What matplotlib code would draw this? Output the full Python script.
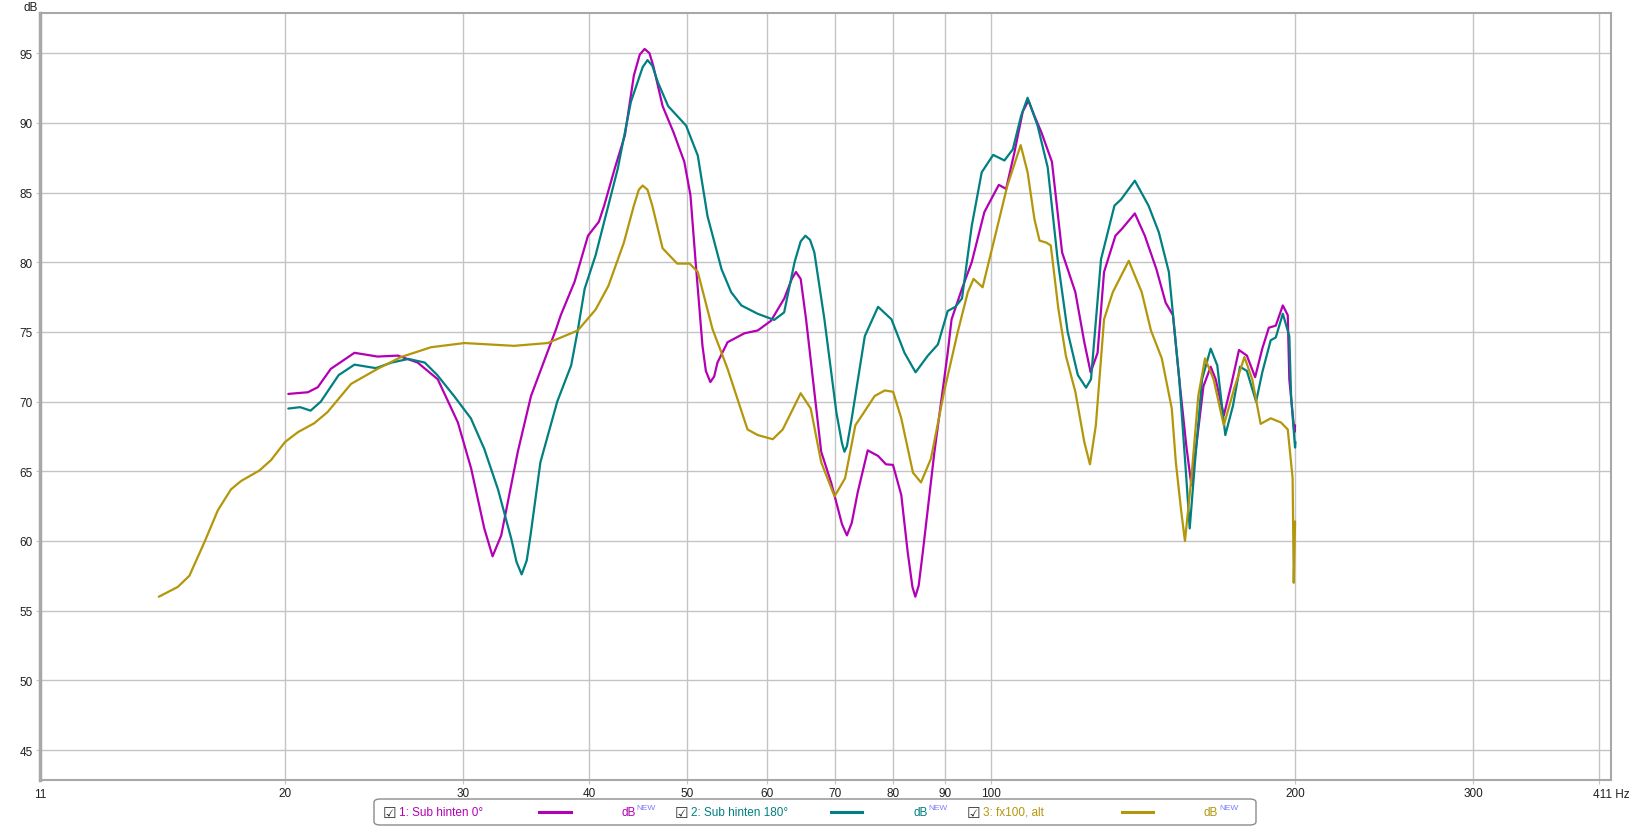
import matplotlib
matplotlib.use("Agg")
import matplotlib.pyplot as plt
from matplotlib.patches import FancyBboxPatch
from matplotlib.lines import Line2D

plt.rcParams['font.family'] = ['Liberation Sans', 'DejaVu Sans']

# Daten (Frequenz in Hz, Pegel in dB)
freq_0 = [20.15, 21.07, 21.55, 22.2, 23.43, 24.7, 25.86, 27.06, 28.33, 29.66,
          30.57, 31.5, 32.1, 32.74, 34.0, 35.04, 37.1, 37.5, 38.7, 39.9,
          40.9, 41.4, 42.4, 43.4, 44.3, 44.9, 45.4, 45.9, 46.3, 47.3, 48.5, 49.7,
          50.4, 51.0, 51.8, 52.2, 52.74, 53.2, 53.6, 54.85, 57.0, 58.75, 60.56, 62.42,
          63.5, 64.1, 64.8, 65.6, 66.85, 67.9, 69.45, 71.2, 72.0, 72.8, 73.8, 75.5, 77.3,
          78.7, 79.97, 81.5, 82.7, 83.6, 84.15, 84.8, 85.6, 87.9, 90.6, 91.4, 93.6,
          95.7, 98.5, 101.8, 103.5, 105.5, 107.5, 108.9, 110.4, 112.2, 114.9,
          117.6, 121.2, 123.7, 125.5, 127.5, 129.4, 132.8, 134.8, 138.8, 142.0,
          145.8, 148.9, 151.4, 153.6, 156.1, 157.9, 160.4, 162.3, 165.0, 166.9,
          170.0, 172.8, 176.0, 179.2, 182.6, 185.6, 188.4, 191.4, 194.5, 196.7,
          197.4, 199.7, 200.0]
db_0 = [70.55, 70.67, 71.03, 72.35, 73.5, 73.23, 73.3, 72.8, 71.6, 68.5,
        65.2, 60.9, 58.9, 60.4, 66.4, 70.4, 75.2, 76.2, 78.6, 81.9,
        82.9, 84.06, 86.7, 89.1, 93.4, 94.9, 95.3, 95.0, 94.1, 91.2, 89.3, 87.2,
        84.8, 80.0, 74.0, 72.2, 71.4, 71.8, 72.8, 74.26, 74.9, 75.1, 75.8, 77.4,
        78.8, 79.3, 78.8, 75.9, 70.7, 66.4, 64.2, 61.2, 60.4, 61.3, 63.5, 66.5, 66.1,
        65.5, 65.46, 63.3, 59.2, 56.7, 56.0, 56.8, 59.2, 66.4, 73.5, 75.9, 78.1,
        80.0, 83.6, 85.55, 85.26, 87.9, 90.8, 91.6, 90.5, 89.3, 87.2,
        80.7, 77.85, 74.26, 72.1, 73.5, 79.3, 81.9, 82.4, 83.5, 81.9,
        79.5, 77.1, 76.2, 71.6, 66.8, 64.0, 68.0, 71.1, 72.5, 71.6,
        69.0, 71.1, 73.7, 73.3, 71.75, 73.8, 75.3, 75.45, 76.9, 76.2,
        71.6, 67.8, 68.3]

freq_180 = [20.15, 20.7, 21.2, 21.7, 22.6, 23.43, 24.6, 25.5, 26.5, 27.5,
            28.3, 29.4, 30.55, 31.5, 32.5, 33.5, 33.9, 34.3, 34.7, 35.0, 35.8, 37.2,
            38.4, 39.0, 39.6, 40.6, 41.4, 42.7, 44.0, 45.2, 45.7, 46.2, 46.8, 47.9,
            49.9, 51.25, 52.4, 54.1, 55.3, 56.6, 58.75, 61.0, 62.4, 63.9,
            64.8, 65.5, 66.2, 66.85, 68.4, 70.3, 71.2, 71.6, 72.0, 72.8, 75.0, 77.3, 79.7, 82.1,
            84.2, 86.6, 88.6, 90.6, 92.2, 93.6, 95.7, 97.9, 100.5, 103.1,
            105.1, 107.1, 108.7, 111.2, 113.8, 116.4, 119.1, 121.9, 124.2, 125.6,
            128.5, 132.5, 134.5, 138.8, 143.2, 146.6, 150.0, 153.6, 156.1, 157.3,
            159.2, 161.8, 165.0, 167.5, 170.6, 173.6, 176.4, 179.2, 183.0, 185.6,
            189.2, 191.4, 194.5, 197.4, 198.2, 200.0, 200.2]
db_180 = [69.5, 69.6, 69.35, 70.0, 71.9, 72.65, 72.4, 72.8, 73.06, 72.8,
          71.9, 70.4, 68.8, 66.6, 63.7, 60.15, 58.5, 57.6, 58.6, 60.4, 65.65, 70.0,
          72.6, 75.2, 78.1, 80.5, 82.9, 86.7, 91.5, 94.0, 94.5, 94.1, 92.9, 91.2,
          89.8, 87.65, 83.3, 79.5, 77.85, 76.9, 76.3, 75.86, 76.4, 80.0,
          81.5, 81.9, 81.6, 80.7, 75.9, 69.2, 67.0, 66.4, 66.8, 68.8, 74.7, 76.8, 75.9, 73.5,
          72.1, 73.3, 74.1, 76.5, 76.8, 77.4, 82.6, 86.45, 87.7, 87.3,
          88.1, 90.5, 91.8, 89.8, 86.8, 80.2, 75.0, 71.9, 71.0, 71.6,
          80.2, 84.06, 84.5, 85.85, 84.06, 82.15, 79.3, 71.6, 64.5, 60.9,
          65.65, 71.6, 73.8, 72.6, 67.6, 69.7, 72.5, 72.2, 70.0, 72.1,
          74.4, 74.6, 76.3, 74.7, 70.4, 66.7, 67.1]

freq_alt = [15.0, 15.66, 16.08, 16.64, 17.16, 17.68, 18.09, 18.86, 19.37, 20.0,
            20.59, 21.38, 22.03, 23.25, 24.7, 26.06, 27.9, 30.1, 33.7, 36.4,
            38.98, 40.6, 41.8, 43.3, 44.3, 44.8, 45.2, 45.7, 46.2, 47.3, 48.9, 50.3,
            51.25, 53.0, 54.85, 57.4, 58.75, 60.8, 62.2, 64.8, 66.3, 67.9,
            70.0, 71.7, 73.4, 74.5, 76.7, 78.5, 80.0, 81.5, 83.7, 85.25,
            87.2, 89.85, 92.7, 94.85, 96.1, 98.1, 100.8, 103.8, 107.0, 108.7,
            110.4, 111.7, 113.5, 114.6, 116.6, 118.6, 121.2, 123.7, 125.3, 127.0,
            129.4, 132.0, 136.9, 141.0, 144.0, 147.6, 151.0, 152.4, 154.3, 155.6,
            157.9, 160.4, 162.9, 166.1, 170.0, 174.2, 178.2, 181.4, 184.9, 189.2,
            193.7, 196.7, 198.9, 199.4, 200.0]
db_alt = [56.0, 56.7, 57.5, 59.9, 62.2, 63.7, 64.3, 65.05, 65.8, 67.1,
          67.8, 68.45, 69.24, 71.27, 72.35, 73.2, 73.9, 74.2, 74.0, 74.2,
          75.1, 76.6, 78.3, 81.4, 84.06, 85.2, 85.5, 85.2, 84.06, 81.0, 79.9, 79.9,
          79.3, 75.2, 72.35, 68.0, 67.6, 67.3, 68.0, 70.6, 69.5, 65.65,
          63.2, 64.5, 68.3, 69.0, 70.4, 70.8, 70.7, 68.8, 64.9, 64.2,
          65.9, 70.7, 75.0, 77.85, 78.8, 78.2, 81.7, 85.5, 88.4, 86.45,
          83.1, 81.55, 81.4, 81.2, 76.65, 73.3, 70.7, 67.1, 65.5, 68.3,
          75.9, 77.85, 80.1, 77.85, 75.1, 73.1, 69.5, 65.65, 62.1, 60.0,
          64.5, 70.4, 73.1, 71.6, 68.3, 71.0, 73.2, 71.6, 68.4, 68.8,
          68.5, 68.0, 64.5, 57.0, 61.4]

x_ticks = [20, 30, 40, 50, 60, 70, 80, 90, 100, 200, 300, 400]
x_labels = ['20', '30', '40', '50', '60', '70', '80', '90', '100', '200', '300', '']
y_ticks = [45, 50, 55, 60, 65, 70, 75, 80, 85, 90, 95]

namen = ['1: Sub hinten 0°', '2: Sub hinten 180°', '3: fx100, alt']
farben = ['#b400b4', '#008080', '#b4960a']

W, H = 1632, 829
fig = plt.figure(figsize=(W / 100, H / 100), dpi=100)
ax = fig.add_axes([40 / W, (H - 781) / H, (1611 - 40) / W, (781 - 14) / H])

for f, d, c in [(freq_0, db_0, farben[0]), (freq_180, db_180, farben[1]),
                (freq_alt, db_alt, farben[2])]:
    ax.plot(f, d, color=c, lw=1.6, solid_joinstyle='round', solid_capstyle='round')

ax.set_xscale('log')
ax.set_xlim(11.44, 411)
ax.set_ylim(42.85, 97.88)
ax.set_xticks(x_ticks)
ax.set_xticklabels(x_labels)
ax.xaxis.set_minor_locator(matplotlib.ticker.NullLocator())
ax.set_yticks(y_ticks)
ax.grid(True, color='#c4c4c4', lw=1)
ax.tick_params(length=3, color='#c4c4c4', labelsize=8.5, pad=2, labelcolor='#202020')
for s in ax.spines.values():
    s.set_color('#a8a8a8')
    s.set_linewidth(1.5)
ax.spines['left'].set_linewidth(2.5)

# Randbeschriftungen
fig.text(23 / W, 1 - 8 / H, 'dB', fontsize=8.5, color='#202020', va='center')
fig.text(40 / W, 1 - 795 / H, '11', fontsize=8.5, color='#202020', ha='center', va='center')
fig.text(1611 / W, 1 - 795 / H, '411 Hz', fontsize=8.5, color='#202020', ha='center', va='center')

# Legende
box = FancyBboxPatch((374 / W, 1 - 826 / H), (1256 - 374) / W, 26 / H,
                     boxstyle='round,pad=0,rounding_size=0.004',
                     transform=fig.transFigure, ec='#8c8c8c', fc='white', lw=1)
fig.patches.append(box)
yl = 1 - 813 / H
pos = [(383, 399, 539, 571, 621), (675, 691, 831, 862, 913), (967, 983, 1122, 1153, 1204)]
for (cb, tx, l0, l1, dbx), name, c in zip(pos, namen, farben):
    fig.text(cb / W, yl, '\u2611', fontsize=11, color='#303030', va='center',
             family=['DejaVu Sans'])
    fig.text(tx / W, yl, name, fontsize=8.5, color=c, va='center')
    fig.lines.append(Line2D([l0 / W, l1 / W], [yl, yl], color=c, lw=2.2,
                            transform=fig.transFigure))
    fig.text(dbx / W, yl, 'dB', fontsize=8.5, color=c, va='center')
    fig.text((dbx + 15) / W, yl + 4 / H, 'NEW', fontsize=6, color='#7b7bff', va='center')

fig.savefig('out.png', dpi=100)
